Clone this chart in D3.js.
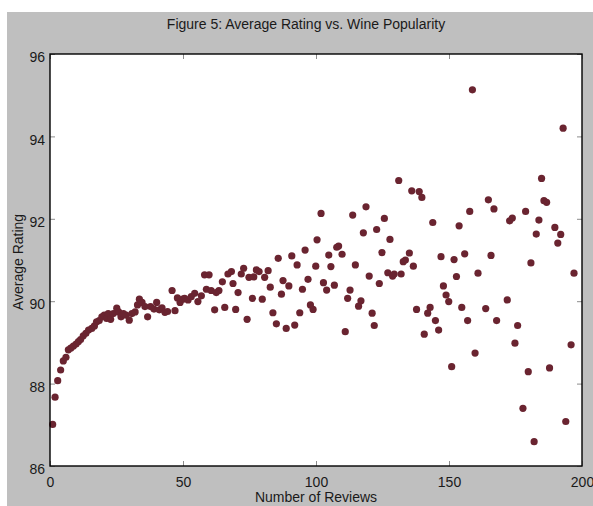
<!DOCTYPE html>
<html>
<head>
<meta charset="utf-8">
<script src="https://cdn.jsdelivr.net/npm/d3@7"></script>
<style>
  body { margin: 0; background: #fff; }
  text { font-family: "Liberation Sans", Arial, sans-serif; fill: #1a1a1a; }
</style>
</head>
<body>
<div id="chart"></div>
<script>
var svgWidth = 593;
var svgHeight = 506;

var margin = { top: 54, right: 11, bottom: 40, left: 50 };
var width = svgWidth - margin.left - margin.right;
var height = svgHeight - margin.top - margin.bottom;

// number of reviews for each wine group
var reviews = [
  1.0, 1.9, 2.9, 4.0, 5.0, 6.0, 6.9, 7.8, 8.8, 9.8,
  10.7, 11.5, 12.5, 13.5, 14.5, 15.7, 16.7, 17.5, 18.5, 19.5,
  20.4, 21.3, 21.9, 22.8, 23.8, 25.1, 25.8, 26.7, 27.6, 28.6,
  29.8, 30.8, 32.0, 32.9, 33.6, 34.6, 35.7, 36.7, 37.8, 39.1,
  40.1, 41.1, 42.1, 43.2, 44.2, 45.9, 47.0, 47.9, 48.9, 49.9,
  50.6, 51.9, 53.1, 54.4, 55.6, 56.9, 58.1, 59.8, 58.8, 60.6,
  62.5, 63.5, 64.8, 61.9, 65.7, 66.9, 68.2, 68.8, 69.8, 70.7,
  71.9, 72.8, 74.1, 74.8, 76.1, 76.6, 77.6, 78.6, 79.8, 80.7,
  82.0, 82.8, 83.8, 85.1, 85.8, 87.0, 87.6, 88.8, 89.8, 90.9,
  92.0, 92.9, 93.9, 94.9, 95.9, 97.0, 97.9, 98.9, 99.9, 100.4,
  131.1, 136.0, 138.8, 139.8, 101.9, 113.8, 118.8, 143.9, 125.7, 122.8,
  117.8, 127.8, 108.5, 107.8, 104.8, 109.8, 124.8, 135.1, 133.6, 132.8,
  147.0, 105.6, 114.8, 136.6, 127.0, 129.4, 128.8, 132.0, 120.0, 123.8,
  102.8, 106.9, 104.0, 112.8, 111.9, 116.9, 116.0, 147.9, 148.9, 149.9,
  121.1, 121.9, 111.0, 137.8, 142.9, 142.0, 144.9, 140.7, 146.1,
  158.8, 192.9, 184.8, 164.8, 185.7, 186.7, 166.9, 157.8, 178.8, 172.8,
  173.8, 183.8, 153.8, 189.8, 182.8, 192.0, 190.9, 151.9, 155.9, 165.8,
  180.8, 152.8, 160.9, 197.0, 171.9, 154.8, 163.8, 157.0, 167.9, 175.8,
  174.8, 195.9, 159.8, 151.0, 187.8, 179.8, 177.8, 193.9, 182.0
];

// average rating of the same groups
var ratings = [
  87.01, 87.67, 88.07, 88.33, 88.55, 88.64, 88.82, 88.86, 88.91, 88.96,
  89.02, 89.07, 89.16, 89.22, 89.30, 89.34, 89.40, 89.50, 89.53, 89.62,
  89.66, 89.58, 89.70, 89.56, 89.70, 89.83, 89.74, 89.62, 89.70, 89.66,
  89.54, 89.70, 89.74, 89.91, 90.05, 89.97, 89.87, 89.62, 89.87, 89.81,
  89.97, 89.79, 89.84, 89.73, 89.75, 90.26, 89.77, 90.08, 89.97, 90.05,
  90.07, 90.03, 90.11, 90.19, 89.99, 90.13, 90.64, 90.64, 90.29, 90.26,
  90.21, 90.26, 90.47, 89.79, 89.85, 90.66, 90.72, 90.43, 89.80, 90.21,
  90.66, 90.80, 89.56, 90.58, 90.07, 90.59, 90.76, 90.72, 90.05, 90.58,
  90.74, 90.34, 89.72, 89.45, 91.04, 90.17, 90.50, 89.34, 90.37, 91.10,
  89.42, 90.88, 89.72, 90.29, 91.24, 90.53, 89.91, 89.80, 90.85, 91.49,
  92.93, 92.68, 92.66, 92.52, 92.13, 92.09, 92.29, 91.91, 92.01, 91.74,
  91.66, 91.50, 91.34, 91.31, 91.12, 91.14, 91.18, 91.17, 91.00, 90.96,
  91.08, 90.84, 90.88, 90.85, 90.69, 90.66, 90.61, 90.66, 90.61, 90.43,
  90.45, 90.39, 90.27, 90.27, 90.07, 90.01, 89.88, 90.37, 90.15, 89.99,
  89.71, 89.41, 89.26, 89.80, 89.85, 89.71, 89.53, 89.20, 89.30,
  95.13, 94.20, 92.98, 92.46, 92.44, 92.40, 92.24, 92.18, 92.18, 91.95,
  92.02, 91.97, 91.83, 91.79, 91.63, 91.62, 91.41, 91.01, 91.15, 91.11,
  90.93, 90.60, 90.68, 90.68, 90.03, 89.85, 89.82, 89.53, 89.53, 89.41,
  88.98, 88.94, 88.74, 88.41, 88.38, 88.29, 87.40, 87.08, 86.59
];

var xTicks = [0, 50, 100, 150, 200];
var yTicks = [86, 88, 90, 92, 94, 96];

var titleText = "Figure 5: Average Rating vs. Wine Popularity";
var xLabelText = "Number of Reviews";
var yLabelText = "Average Rating";

var wines = reviews.map(function(d, i) {
  return { reviews: d, rating: ratings[i] };
});

var svg = d3.select("#chart")
  .append("svg")
  .attr("width", svgWidth)
  .attr("height", svgHeight);

// grey figure background
svg.append("rect")
  .attr("x", 7)
  .attr("y", 12)
  .attr("width", svgWidth - 7)
  .attr("height", svgHeight - 12)
  .attr("fill", "#bfbfbf");

var chartGroup = svg.append("g")
  .attr("transform", `translate(${margin.left}, ${margin.top})`);

chartGroup.append("rect")
  .attr("width", width)
  .attr("height", height)
  .attr("fill", "#fff");

var xLinearScale = d3.scaleLinear().domain([0, 200]).range([0, width]);
var yLinearScale = d3.scaleLinear().domain([86, 96]).range([height, 0]);

// axes with ticks pointing inwards
var bottomAxis = d3.axisBottom(xLinearScale).tickValues(xTicks)
  .tickSizeInner(-5).tickSizeOuter(0).tickPadding(11);
var leftAxis = d3.axisLeft(yLinearScale).tickValues(yTicks)
  .tickSizeInner(-5).tickSizeOuter(0).tickPadding(5);
var topAxis = d3.axisTop(xLinearScale).tickValues(xTicks)
  .tickSizeInner(-5).tickSizeOuter(0).tickFormat("");
var rightAxis = d3.axisRight(yLinearScale).tickValues(yTicks)
  .tickSizeInner(-5).tickSizeOuter(0).tickFormat("");

var xAxis = chartGroup.append("g")
  .attr("transform", `translate(0, ${height})`)
  .call(bottomAxis);
var yAxis = chartGroup.append("g").call(leftAxis);
var tAxis = chartGroup.append("g").call(topAxis);
var rAxis = chartGroup.append("g")
  .attr("transform", `translate(${width}, 0)`)
  .call(rightAxis);

[xAxis, yAxis, tAxis, rAxis].forEach(function(ax) {
  ax.select(".domain").remove();
  ax.selectAll(".tick line").attr("stroke", "#8c8c8c");
  ax.selectAll(".tick text")
    .style("font-family", "'Liberation Sans', Arial, sans-serif")
    .style("font-size", "14px")
    .attr("fill", "#1a1a1a");
});
yAxis.selectAll(".tick text").attr("dy", "0.55em");

// points
chartGroup.selectAll("circle")
  .data(wines)
  .enter()
  .append("circle")
  .attr("cx", d => xLinearScale(d.reviews))
  .attr("cy", d => yLinearScale(d.rating))
  .attr("r", 3.6)
  .attr("fill", "#6a2430");

// plot box
chartGroup.append("rect")
  .attr("width", width)
  .attr("height", height)
  .attr("fill", "none")
  .attr("stroke", "#000")
  .attr("stroke-width", 1.4);

svg.append("text")
  .attr("x", 306)
  .attr("y", 29)
  .attr("text-anchor", "middle")
  .style("font-size", "14px")
  .text(titleText);

svg.append("text")
  .attr("x", margin.left + width / 2)
  .attr("y", 502)
  .attr("text-anchor", "middle")
  .style("font-size", "14px")
  .text(xLabelText);

svg.append("text")
  .attr("transform", "rotate(-90)")
  .attr("x", -262)
  .attr("y", 23)
  .attr("text-anchor", "middle")
  .style("font-size", "14px")
  .text(yLabelText);
</script>
</body>
</html>
